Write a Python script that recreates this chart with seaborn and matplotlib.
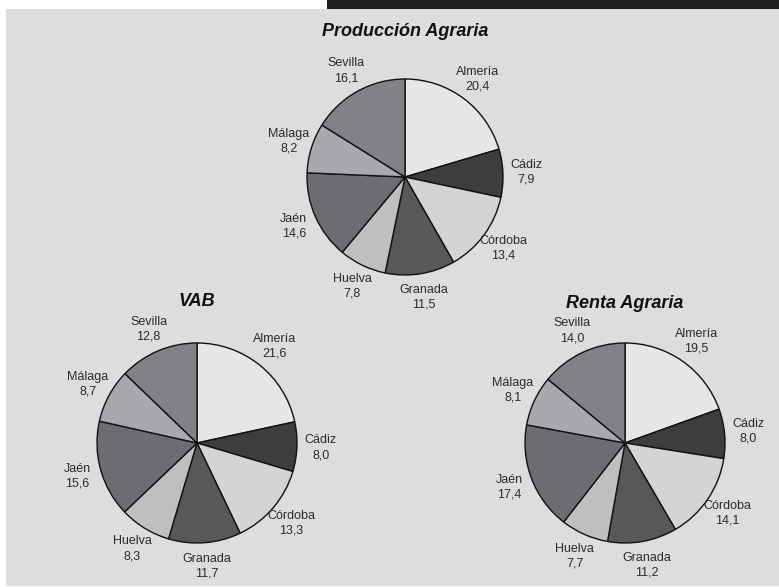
import matplotlib
matplotlib.use('Agg')
import matplotlib.pyplot as plt
from matplotlib.patches import Rectangle
import seaborn as sns

# datos (%) por provincia
provincias = ['Almería', 'Cádiz', 'Córdoba', 'Granada', 'Huelva', 'Jaén', 'Málaga', 'Sevilla']
produccion = [20.4, 7.9, 13.4, 11.5, 7.8, 14.6, 8.2, 16.1]
vab = [21.6, 8.0, 13.3, 11.7, 8.3, 15.6, 8.7, 12.8]
renta = [19.5, 8.0, 14.1, 11.2, 7.7, 17.4, 8.1, 14.0]
titulos = ['Producción Agraria', 'VAB', 'Renta Agraria']

grises = ['#e6e7e9', '#3d3d3e', '#d3d4d6', '#58585a', '#bebfc1', '#6c6d70', '#a8a9ac', '#818285']

sns.set_theme(style='white')
plt.rcParams['font.family'] = ['Liberation Sans', 'DejaVu Sans']

W, H = 779, 587
fig = plt.figure(figsize=(W / 100, H / 100), dpi=100, facecolor='white')

# fondo gris y barra negra superior (detras de los ejes)
fig.add_artist(Rectangle((6 / W, 1 / H), (W - 6) / W, (H - 10) / H, zorder=-10,
                         transform=fig.transFigure, facecolor='#dcdddf', edgecolor='none'))
fig.add_artist(Rectangle((327 / W, 1 - 9 / H), (W - 327) / W, 9 / H, zorder=-10,
                         transform=fig.transFigure, facecolor='#1e1e1e', edgecolor='none'))


def tarta(valores, cx, cy, r, titulo, ty):
    half = 160
    ax = fig.add_axes([(cx - half) / W, 1 - (cy + half) / H, 2 * half / W, 2 * half / H])
    etiquetas = [f'{p}\n{v:.1f}'.replace('.', ',') for p, v in zip(provincias, valores)]
    ax.pie(valores, labels=etiquetas, colors=sns.color_palette(grises), startangle=90,
           counterclock=False, labeldistance=1.24,
           wedgeprops=dict(edgecolor='#111111', linewidth=1.0),
           textprops=dict(ha='center', va='center', fontsize=9, color='#2b2b2b',
                          linespacing=1.3))
    ax.set_xlim(-half / r, half / r)
    ax.set_ylim(-half / r, half / r)
    ax.axis('off')
    ax.patch.set_alpha(0)
    fig.text(cx / W, 1 - ty / H, titulo, ha='center', va='center', fontsize=13,
             fontweight='bold', fontstyle='italic', color='#111111')


tarta(produccion, 405, 177, 98, titulos[0], 31)
tarta(vab, 197, 443, 100, titulos[1], 301)
tarta(renta, 625, 443, 100, titulos[2], 303)

fig.savefig('out.png', dpi=100)
